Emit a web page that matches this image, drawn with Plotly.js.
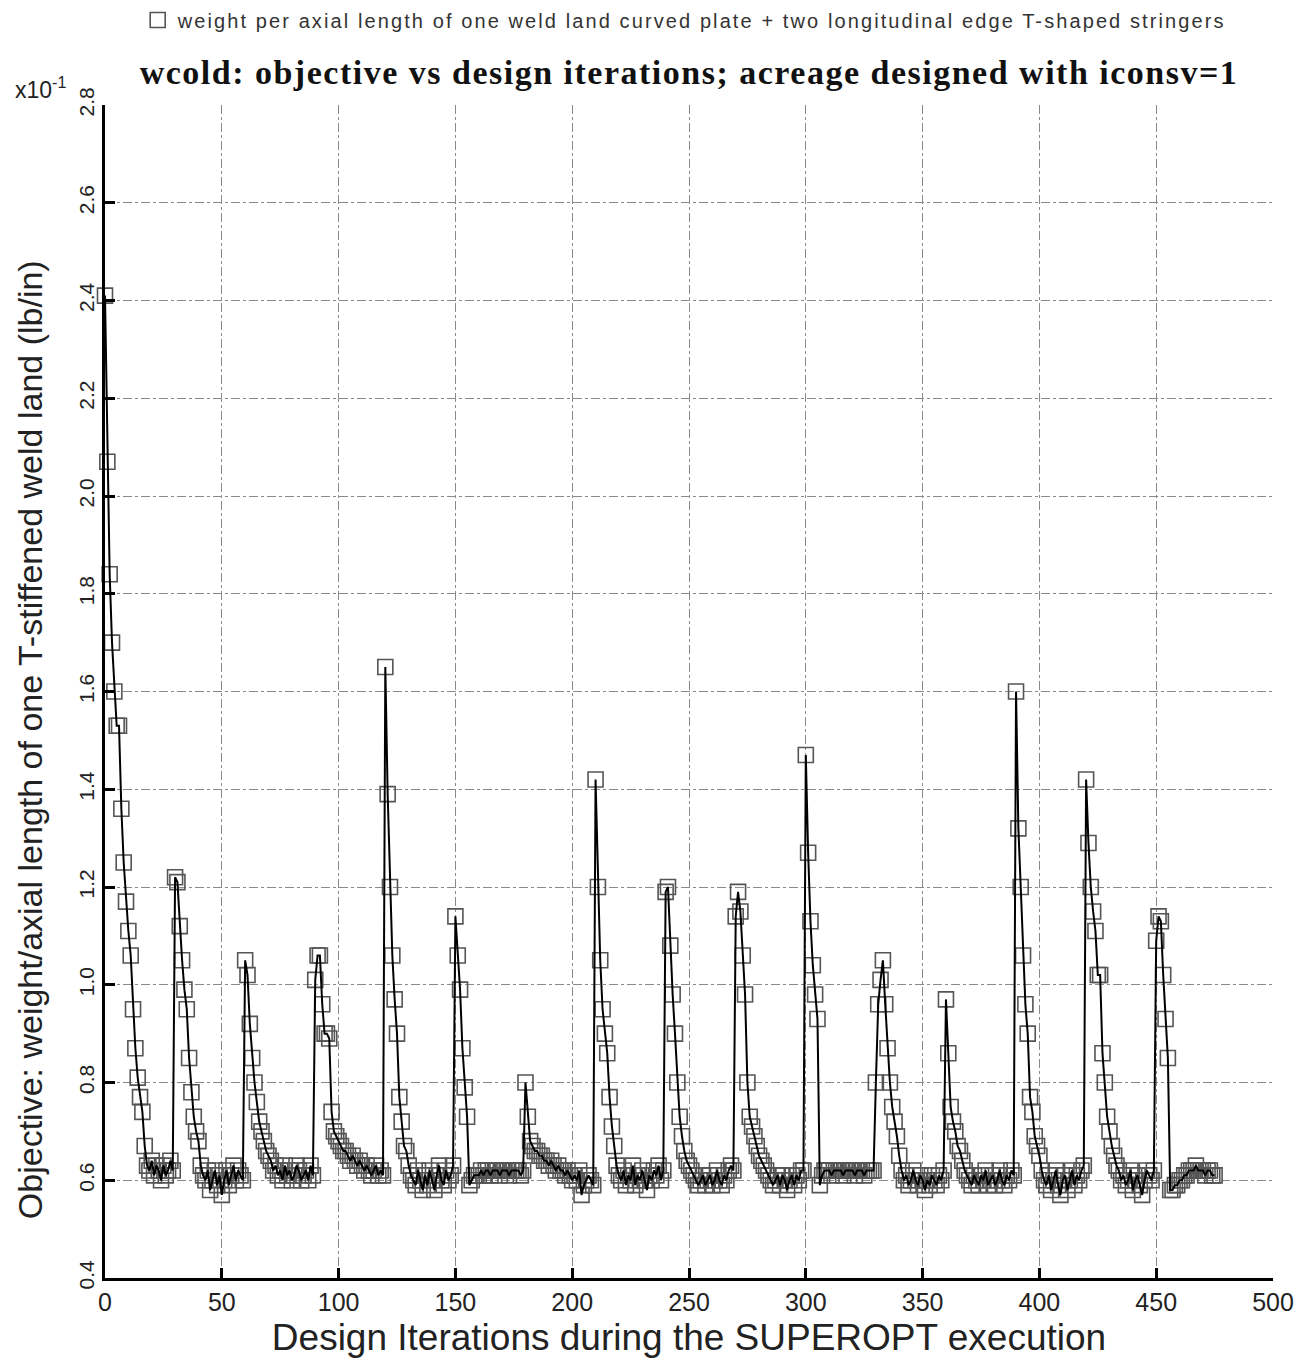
<!DOCTYPE html>
<html>
<head>
<meta charset="utf-8">
<script src="https://cdn.plot.ly/plotly-3.0.1.min.js"></script>
<style>
html,body{margin:0;padding:0;background:#fff;}
#chart{width:1303px;height:1365px;}
.legendtext{letter-spacing:2.1px;}
.gtitle{letter-spacing:1.5px;}
</style>
</head>
<body>
<div id="chart"></div>
<script>
// Objective values (x10^-1 lb/in), one array per 30-iteration restart cycle
const cycle00 = [2.41,2.07,1.84,1.70,1.60,1.53,1.53,1.36,1.25,1.17,1.11,1.06,0.95,0.87,0.81,0.77,0.74,0.67,0.63,0.62,0.64,0.61,0.63,0.62,0.60,0.63,0.61,0.62,0.64,0.62];
const cycle01 = [1.22,1.21,1.12,1.05,0.99,0.95,0.85,0.78,0.73,0.70,0.68,0.63,0.61,0.60,0.62,0.58,0.60,0.62,0.59,0.61,0.57,0.60,0.62,0.59,0.61,0.63,0.60,0.62,0.61,0.60];
const cycle02 = [1.05,1.02,0.92,0.85,0.80,0.76,0.72,0.70,0.68,0.66,0.65,0.64,0.62,0.63,0.61,0.62,0.60,0.63,0.61,0.62,0.60,0.61,0.63,0.62,0.60,0.61,0.62,0.60,0.63,0.61];
const cycle03 = [1.01,1.06,1.06,0.96,0.90,0.90,0.89,0.74,0.70,0.69,0.68,0.67,0.66,0.66,0.65,0.64,0.65,0.64,0.63,0.64,0.63,0.62,0.63,0.62,0.61,0.62,0.63,0.61,0.62,0.61];
const cycle04 = [1.65,1.39,1.20,1.06,0.97,0.90,0.77,0.72,0.67,0.66,0.63,0.61,0.60,0.59,0.62,0.60,0.58,0.61,0.59,0.62,0.60,0.58,0.61,0.63,0.60,0.59,0.62,0.60,0.61,0.63];
const cycle05 = [1.14,1.06,0.99,0.87,0.79,0.73,0.59,0.60,0.61,0.61,0.61,0.62,0.61,0.62,0.62,0.61,0.62,0.62,0.62,0.61,0.62,0.62,0.62,0.61,0.62,0.62,0.62,0.62,0.61,0.62];
const cycle06 = [0.80,0.73,0.68,0.67,0.66,0.66,0.65,0.65,0.64,0.64,0.63,0.64,0.63,0.62,0.63,0.62,0.62,0.61,0.62,0.61,0.60,0.61,0.60,0.62,0.57,0.59,0.60,0.61,0.60,0.59];
const cycle07 = [1.42,1.20,1.05,0.95,0.90,0.86,0.77,0.71,0.67,0.63,0.61,0.60,0.62,0.59,0.61,0.60,0.63,0.59,0.61,0.60,0.62,0.60,0.58,0.61,0.60,0.62,0.61,0.63,0.60,0.62];
const cycle08 = [1.19,1.20,1.08,0.98,0.90,0.80,0.73,0.69,0.66,0.64,0.63,0.62,0.61,0.60,0.59,0.60,0.61,0.59,0.60,0.61,0.59,0.60,0.62,0.60,0.59,0.61,0.60,0.62,0.63,0.62];
const cycle09 = [1.14,1.19,1.15,1.06,0.98,0.80,0.73,0.71,0.69,0.67,0.65,0.64,0.63,0.62,0.61,0.60,0.59,0.60,0.61,0.59,0.61,0.60,0.58,0.60,0.61,0.59,0.61,0.60,0.62,0.62];
const cycle10 = [1.47,1.27,1.13,1.04,0.98,0.93,0.59,0.61,0.62,0.62,0.62,0.61,0.62,0.62,0.62,0.62,0.61,0.62,0.62,0.62,0.62,0.61,0.62,0.62,0.62,0.61,0.62,0.62,0.62,0.62];
const cycle11 = [0.80,0.96,1.01,1.05,0.96,0.87,0.80,0.75,0.72,0.69,0.65,0.62,0.60,0.61,0.59,0.60,0.62,0.60,0.59,0.61,0.60,0.58,0.60,0.59,0.61,0.60,0.59,0.61,0.60,0.62];
const cycle12 = [0.97,0.86,0.75,0.72,0.70,0.67,0.66,0.64,0.62,0.61,0.60,0.59,0.61,0.60,0.59,0.61,0.60,0.62,0.59,0.60,0.61,0.59,0.60,0.62,0.60,0.59,0.61,0.60,0.62,0.61];
const cycle13 = [1.60,1.32,1.20,1.06,0.96,0.90,0.77,0.74,0.69,0.67,0.65,0.62,0.60,0.59,0.61,0.58,0.60,0.62,0.59,0.57,0.60,0.61,0.58,0.60,0.62,0.59,0.61,0.60,0.62,0.63];
const cycle14 = [1.42,1.29,1.20,1.15,1.11,1.02,1.02,0.86,0.80,0.73,0.70,0.67,0.65,0.63,0.62,0.60,0.61,0.59,0.60,0.62,0.58,0.60,0.61,0.59,0.57,0.60,0.62,0.61,0.60,0.62];
const cycle15 = [1.09,1.14,1.13,1.02,0.93,0.85,0.58,0.58,0.59,0.59,0.60,0.60,0.61,0.61,0.62,0.62,0.62,0.63,0.62,0.62,0.62,0.61,0.62,0.62,0.61,0.61];

const seriesName = "weight per axial length of one weld land curved plate + two longitudinal edge T-shaped stringers";
const chartTitle = "wcold: objective vs design iterations; acreage designed with iconsv=1";
const xTitle = "Design Iterations during the SUPEROPT execution";
const yTitle = "Objective: weight/axial length of one T-stiffened weld land (lb/in)";
const yScaleLabel = "x10<sup>-1</sup>";
const xTickVals = [0,50,100,150,200,250,300,350,400,450,500];
const yTickVals = [0.4,0.6,0.8,1.0,1.2,1.4,1.6,1.8,2.0,2.2,2.4,2.6,2.8];

const objective = [].concat(cycle00,cycle01,cycle02,cycle03,cycle04,cycle05,cycle06,cycle07,
  cycle08,cycle09,cycle10,cycle11,cycle12,cycle13,cycle14,cycle15);
const iterations = objective.map((_, i) => i);

const sans = 'Liberation Sans, Arial, sans-serif';

const traces = [
  {
    x: iterations, y: objective, type: 'scatter', mode: 'markers',
    name: seriesName, showlegend: true, cliponaxis: false,
    marker: {symbol: 'square-open', size: 15, color: '#555555', line: {width: 1.6, color: '#555555'}}
  },
  {
    x: iterations, y: objective, type: 'scatter', mode: 'lines',
    showlegend: false, cliponaxis: false,
    line: {color: '#000000', width: 2}
  }
];

const layout = {
  width: 1303, height: 1365,
  paper_bgcolor: '#ffffff', plot_bgcolor: '#ffffff',
  margin: {l: 105, r: 30, t: 105, b: 87, autoexpand: false},
  title: {
    text: '<b>' + chartTitle + '</b>',
    font: {family: 'Liberation Serif, Times New Roman, serif', size: 34, color: '#111'},
    xref: 'paper', x: 0.5, xanchor: 'center', yref: 'container', y: 0.947, yanchor: 'middle'
  },
  showlegend: true,
  legend: {
    x: 0.028, xanchor: 'left', y: 1.0725, yanchor: 'middle',
    orientation: 'h', bgcolor: 'rgba(0,0,0,0)',
    font: {family: sans, size: 20, color: '#333'}
  },
  xaxis: {
    range: [0, 500], tickvals: xTickVals,
    showgrid: true, gridcolor: '#8a8a8a', griddash: 'dashdot', gridwidth: 1,
    zeroline: false, showline: true, linecolor: '#000', linewidth: 3,
    ticks: 'inside', ticklen: 10, tickwidth: 3, tickcolor: '#000',
    tickfont: {family: sans, size: 25, color: '#222'},
    title: {text: xTitle, standoff: 10, font: {family: sans, size: 37, color: '#222'}}
  },
  yaxis: {
    range: [0.4, 2.8], tickvals: yTickVals, tickformat: '.1f', tickangle: -90,
    showgrid: true, gridcolor: '#8a8a8a', griddash: 'dashdot', gridwidth: 1,
    zeroline: false, showline: true, linecolor: '#000', linewidth: 3,
    ticks: 'inside', ticklen: 10, tickwidth: 3, tickcolor: '#000',
    tickfont: {family: sans, size: 21, color: '#222'}
  },
  annotations: [
    {
      text: yScaleLabel, xref: 'paper', yref: 'paper', x: -0.079, y: 1.0, xanchor: 'left', yanchor: 'bottom',
      yshift: 0, showarrow: false, font: {family: sans, size: 23, color: '#222'}
    },
    {
      text: yTitle, xref: 'paper', yref: 'paper', x: -0.064, y: 0.4587, xanchor: 'center', yanchor: 'middle',
      textangle: -90, showarrow: false, font: {family: sans, size: 34, color: '#222'}
    }
  ]
};

Plotly.newPlot('chart', traces, layout, {displayModeBar: false, staticPlot: true});
</script>
</body>
</html>
